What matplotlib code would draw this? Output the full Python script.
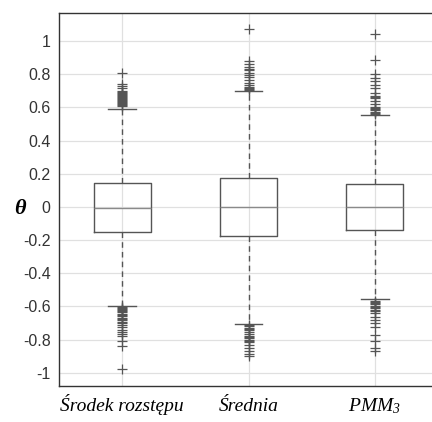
import matplotlib
matplotlib.use("Agg")
import matplotlib.pyplot as plt
from matplotlib.ticker import FuncFormatter

plt.rcParams['axes.unicode_minus'] = False
plt.rcParams['mathtext.fontset'] = 'custom'
plt.rcParams['mathtext.it'] = 'Liberation Serif:italic'
plt.rcParams['mathtext.rm'] = 'Liberation Serif:italic'

# box statistics
labels = ['Środek rozstępu', 'Średnia', r'$PMM_3$']
medians = [-0.004, 0.0, 0.0]
q1 = [-0.150, -0.177, -0.140]
q3 = [0.146, 0.173, 0.139]
whisk_lo = [-0.596, -0.705, -0.558]
whisk_hi = [0.588, 0.699, 0.554]

# outliers (approximate)
out_1 = [0.811, 0.741, 0.729, 0.717, 0.700, 0.694, 0.688, 0.682, 0.676, 0.670,
         0.664, 0.658, 0.652, 0.646, 0.640, 0.634, 0.628, 0.622, 0.616, 0.610,
         -0.602, -0.608, -0.614, -0.620, -0.628, -0.636, -0.644, -0.652, -0.660,
         -0.668, -0.676, -0.684, -0.692, -0.700, -0.715, -0.727, -0.740, -0.752,
         -0.765, -0.780, -0.811, -0.840, -0.980]
out_2 = [1.072, 0.881, 0.862, 0.843, 0.832, 0.826, 0.810, 0.795, 0.782, 0.765,
         0.750, 0.735, 0.722, 0.716, 0.710, 0.705,
         -0.712, -0.720, -0.728, -0.736, -0.745, -0.755, -0.765, -0.778,
         -0.787, -0.793, -0.800, -0.808, -0.817, -0.835, -0.850, -0.868,
         -0.884, -0.898]
out_3 = [1.044, 0.887, 0.800, 0.778, 0.757, 0.737, 0.715, 0.690, 0.668, 0.662,
         0.656, 0.640, 0.620, 0.605, 0.598, 0.590, 0.582, 0.575, 0.566, 0.560,
         -0.565, -0.572, -0.580, -0.588, -0.596, -0.604, -0.612, -0.620,
         -0.628, -0.637, -0.663, -0.679, -0.697, -0.727, -0.771, -0.810,
         -0.851, -0.867]
outliers = [out_1, out_2, out_3]

yticks = [1, 0.8, 0.6, 0.4, 0.2, 0, -0.2, -0.4, -0.6, -0.8, -1]

stats = []
for i in range(3):
    stats.append({'med': medians[i], 'q1': q1[i], 'q3': q3[i],
                  'whislo': whisk_lo[i], 'whishi': whisk_hi[i],
                  'fliers': outliers[i], 'label': labels[i]})

fig = plt.figure(figsize=(4.32, 4.22), dpi=100)
ax = fig.add_axes([59 / 432, 36 / 422, 379 / 432, 373 / 422])

grey = '#555555'
ax.bxp(stats, positions=[1, 2, 3], widths=0.45, capwidths=0.22,
       boxprops=dict(color=grey, linewidth=1.0),
       whiskerprops=dict(color=grey, linewidth=1.0, linestyle=(0, (4, 3))),
       capprops=dict(color=grey, linewidth=1.0),
       medianprops=dict(color='#8a8a8a', linewidth=1.0),
       flierprops=dict(marker='+', markersize=7.5, markeredgecolor=grey,
                       markeredgewidth=0.9, linestyle='none'))

ax.set_xlim(0.5, 3.5)
ax.set_ylim(-1.08, 1.17)
ax.set_yticks(yticks)
ax.yaxis.set_major_formatter(FuncFormatter(lambda v, p: '%g' % round(v, 2)))
ax.grid(True, color='#e0e0e0', linewidth=0.9)
ax.set_axisbelow(True)

for s in ax.spines.values():
    s.set_color('#333333')
    s.set_linewidth(1.0)

ax.tick_params(axis='both', length=0, colors='#333333')
for t in ax.get_yticklabels():
    t.set_fontfamily('Liberation Sans')
    t.set_fontsize(11.5)
ax.tick_params(axis='y', pad=6)
ax.tick_params(axis='x', pad=18)
ax.set_xticklabels(labels, fontfamily='Liberation Serif', fontstyle='italic',
                   fontsize=14, color='black')
for t in ax.get_xticklabels():
    t.set_verticalalignment('baseline')

fig.text(20 / 432, 1 - 209 / 422, 'θ', fontfamily='Liberation Serif',
         fontstyle='italic', fontweight='bold', fontsize=16,
         ha='center', va='center')

fig.savefig('out.png', dpi=100)
